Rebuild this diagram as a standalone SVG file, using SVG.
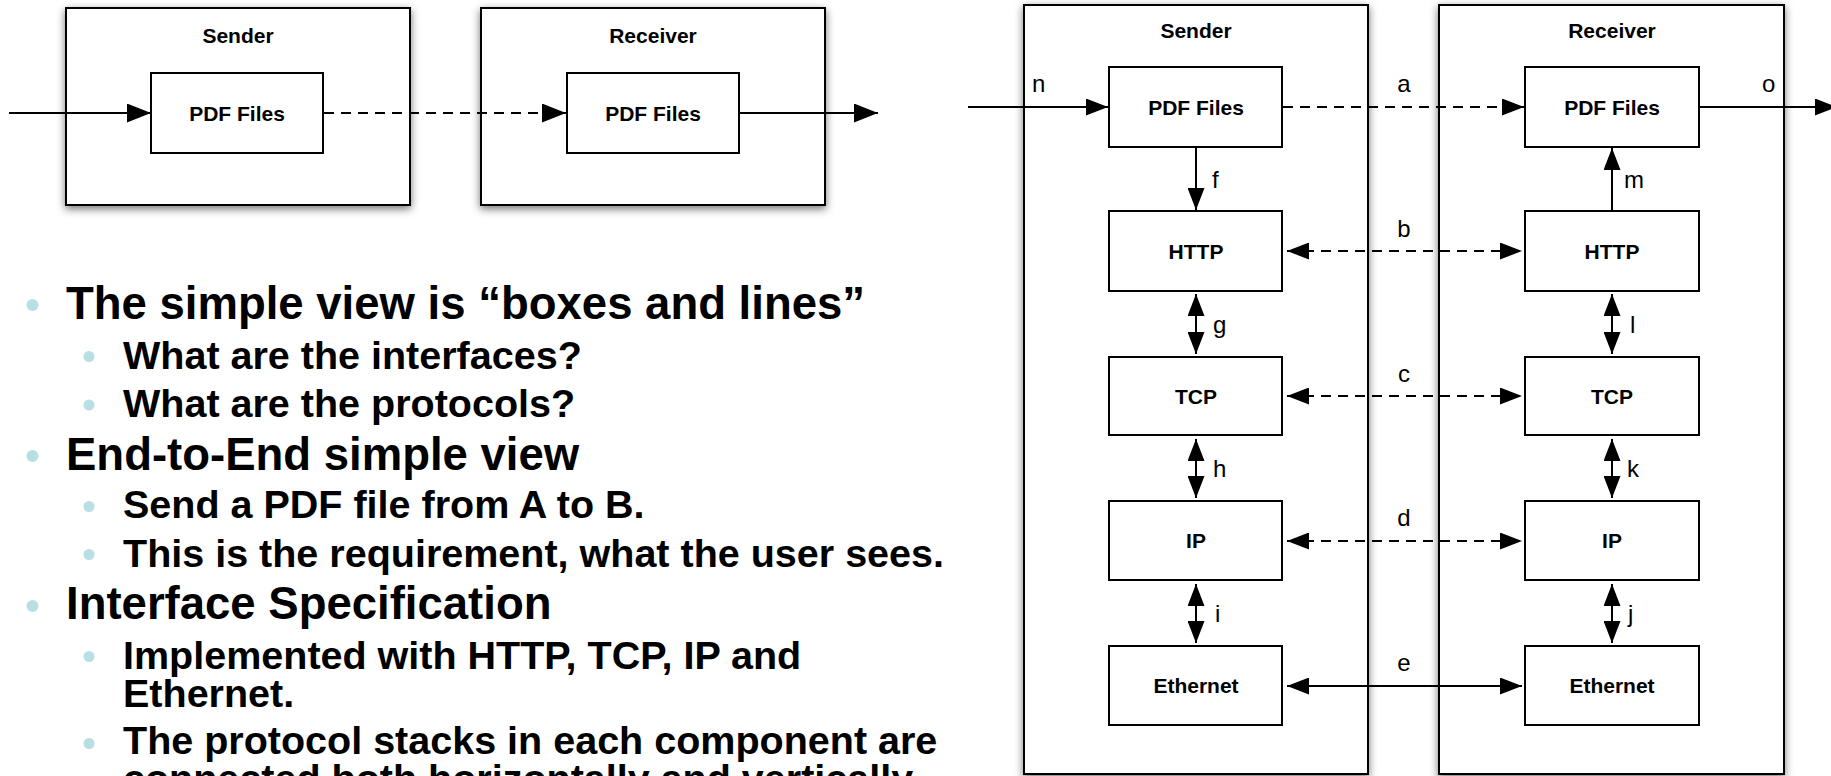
<svg xmlns="http://www.w3.org/2000/svg" width="1831" height="776" viewBox="0 0 1831 776">
<defs>
<filter id="sh" x="-10%" y="-10%" width="120%" height="120%">
<feDropShadow dx="0" dy="3" stdDeviation="4" flood-color="#000" flood-opacity="0.55"/>
</filter>
<marker id="ah" viewBox="0 0 22 17" refX="22" refY="8.5" markerWidth="22" markerHeight="17" markerUnits="userSpaceOnUse" orient="auto-start-reverse">
<path d="M0,0 L22,8.5 L0,17 Z" fill="#000"/>
</marker>
<marker id="ahl" viewBox="0 0 24 19" refX="24" refY="9.5" markerWidth="24" markerHeight="19" markerUnits="userSpaceOnUse" orient="auto-start-reverse">
<path d="M0,0 L24,9.5 L0,19 Z" fill="#000"/>
</marker>
</defs>
<style>
.outer{fill:#fff;stroke:#000;stroke-width:2;filter:url(#sh)}
.box{fill:#fff;stroke:#000;stroke-width:2}
.t{font-family:"Liberation Sans",Arial,sans-serif;font-weight:bold;font-size:21px;text-anchor:middle;fill:#000}
.lb{font-family:"Liberation Sans",Arial,sans-serif;font-size:24px;fill:#000}
.lc{text-anchor:middle}
.ln{stroke:#000;stroke-width:2;fill:none}
.dash{stroke-dasharray:10 7}
.b1{font-family:"Liberation Sans",Arial,sans-serif;font-weight:bold;font-size:45.5px;fill:#000}
.b2{font-family:"Liberation Sans",Arial,sans-serif;font-weight:bold;font-size:39.5px;fill:#000}
.dot{fill:#b7dfe4}
</style>
<rect width="1831" height="776" fill="#fff"/>

<!-- Left simple diagram -->
<g id="simple-sender">
<rect class="outer" x="66" y="8" width="344" height="197"/>
<text class="t" x="238" y="43">Sender</text>
</g>
<g id="simple-receiver">
<rect class="outer" x="481" y="8" width="344" height="197"/>
<text class="t" x="653" y="43">Receiver</text>
</g>
<g id="simple-sender-pdf">
<rect class="box" x="151" y="73" width="172" height="80"/>
<text class="t" x="237" y="121">PDF Files</text>
</g>
<g id="simple-receiver-pdf">
<rect class="box" x="567" y="73" width="172" height="80"/>
<text class="t" x="653" y="121">PDF Files</text>
</g>
<g id="simple-connectors">
<line class="ln" x1="9" y1="113" x2="151" y2="113" marker-end="url(#ahl)"/>
<line class="ln dash" x1="324" y1="113" x2="566" y2="113" marker-end="url(#ahl)"/>
<line class="ln" x1="740" y1="113" x2="878" y2="113" marker-end="url(#ahl)"/>
</g>

<!-- Bullet text -->
<g id="bullets">
<circle class="dot" cx="32.5" cy="305" r="6"/>
<text class="b1" x="66" y="319">The simple view is “boxes and lines”</text>
<circle class="dot" cx="89" cy="356.5" r="5.5"/>
<text class="b2" x="123" y="369">What are the interfaces?</text>
<circle class="dot" cx="89" cy="405" r="5.5"/>
<text class="b2" x="123" y="417">What are the protocols?</text>
<circle class="dot" cx="32.5" cy="456" r="6"/>
<text class="b1" x="66" y="470">End-to-End simple view</text>
<circle class="dot" cx="89" cy="506.5" r="5.5"/>
<text class="b2" x="123" y="518">Send a PDF file from A to B.</text>
<circle class="dot" cx="89" cy="554.5" r="5.5"/>
<text class="b2" x="123" y="566.5">This is the requirement, what the user sees.</text>
<circle class="dot" cx="32.5" cy="606" r="6"/>
<text class="b1" x="66" y="619">Interface Specification</text>
<circle class="dot" cx="89" cy="656.5" r="5.5"/>
<text class="b2" x="123" y="668.5">Implemented with HTTP, TCP, IP and</text>
<text class="b2" x="123" y="707">Ethernet.</text>
<circle class="dot" cx="89" cy="743.5" r="5.5"/>
<text class="b2" x="123" y="753.5">The protocol stacks in each component are</text>
<text class="b2" x="123" y="792">connected both horizontally and vertically.</text>
</g>

<!-- Right detailed diagram -->
<g id="sender">
<rect class="outer" x="1024" y="5" width="344" height="769"/>
<text class="t" x="1196" y="38">Sender</text>
</g>
<g id="receiver">
<rect class="outer" x="1439" y="5" width="345" height="769"/>
<text class="t" x="1612" y="38">Receiver</text>
</g>
<g id="s-pdf"><rect class="box" x="1109" y="67" width="173" height="80"/><text class="t" x="1196" y="115">PDF Files</text></g>
<g id="s-http"><rect class="box" x="1109" y="211" width="173" height="80"/><text class="t" x="1196" y="259">HTTP</text></g>
<g id="s-tcp"><rect class="box" x="1109" y="357" width="173" height="78"/><text class="t" x="1196" y="404">TCP</text></g>
<g id="s-ip"><rect class="box" x="1109" y="501" width="173" height="79"/><text class="t" x="1196" y="548">IP</text></g>
<g id="s-eth"><rect class="box" x="1109" y="646" width="173" height="79"/><text class="t" x="1196" y="693">Ethernet</text></g>
<g id="r-pdf"><rect class="box" x="1525" y="67" width="174" height="80"/><text class="t" x="1612" y="115">PDF Files</text></g>
<g id="r-http"><rect class="box" x="1525" y="211" width="174" height="80"/><text class="t" x="1612" y="259">HTTP</text></g>
<g id="r-tcp"><rect class="box" x="1525" y="357" width="174" height="78"/><text class="t" x="1612" y="404">TCP</text></g>
<g id="r-ip"><rect class="box" x="1525" y="501" width="174" height="79"/><text class="t" x="1612" y="548">IP</text></g>
<g id="r-eth"><rect class="box" x="1525" y="646" width="174" height="79"/><text class="t" x="1612" y="693">Ethernet</text></g>

<g id="connectors">
<line class="ln" x1="968" y1="107" x2="1108" y2="107" marker-end="url(#ah)"/>
<line class="ln dash" x1="1283" y1="107" x2="1524" y2="107" marker-end="url(#ah)"/>
<line class="ln" x1="1700" y1="107" x2="1837" y2="107" marker-end="url(#ah)"/>
<line class="ln" x1="1196" y1="147" x2="1196" y2="210" marker-end="url(#ah)"/>
<line class="ln" x1="1612" y1="211" x2="1612" y2="148" marker-end="url(#ah)"/>
<line class="ln dash" x1="1287" y1="251" x2="1522" y2="251" marker-start="url(#ah)" marker-end="url(#ah)"/>
<line class="ln dash" x1="1287" y1="396" x2="1522" y2="396" marker-start="url(#ah)" marker-end="url(#ah)"/>
<line class="ln dash" x1="1287" y1="541" x2="1522" y2="541" marker-start="url(#ah)" marker-end="url(#ah)"/>
<line class="ln" x1="1287" y1="686" x2="1522" y2="686" marker-start="url(#ah)" marker-end="url(#ah)"/>
<line class="ln" x1="1196" y1="294" x2="1196" y2="354" marker-start="url(#ah)" marker-end="url(#ah)"/>
<line class="ln" x1="1196" y1="439" x2="1196" y2="498" marker-start="url(#ah)" marker-end="url(#ah)"/>
<line class="ln" x1="1196" y1="584" x2="1196" y2="643" marker-start="url(#ah)" marker-end="url(#ah)"/>
<line class="ln" x1="1612" y1="294" x2="1612" y2="354" marker-start="url(#ah)" marker-end="url(#ah)"/>
<line class="ln" x1="1612" y1="439" x2="1612" y2="498" marker-start="url(#ah)" marker-end="url(#ah)"/>
<line class="ln" x1="1612" y1="584" x2="1612" y2="643" marker-start="url(#ah)" marker-end="url(#ah)"/>
<text class="lb" x="1032" y="92">n</text>
<text class="lb lc" x="1404" y="92">a</text>
<text class="lb" x="1762" y="92">o</text>
<text class="lb" x="1212" y="188">f</text>
<text class="lb" x="1624" y="188">m</text>
<text class="lb lc" x="1404" y="237">b</text>
<text class="lb" x="1213" y="333">g</text>
<text class="lb" x="1630" y="333">l</text>
<text class="lb lc" x="1404" y="382">c</text>
<text class="lb" x="1213" y="477">h</text>
<text class="lb" x="1627" y="477">k</text>
<text class="lb lc" x="1404" y="526">d</text>
<text class="lb" x="1215" y="622">i</text>
<text class="lb" x="1628" y="622">j</text>
<text class="lb lc" x="1404" y="671">e</text>
</g>
</svg>
